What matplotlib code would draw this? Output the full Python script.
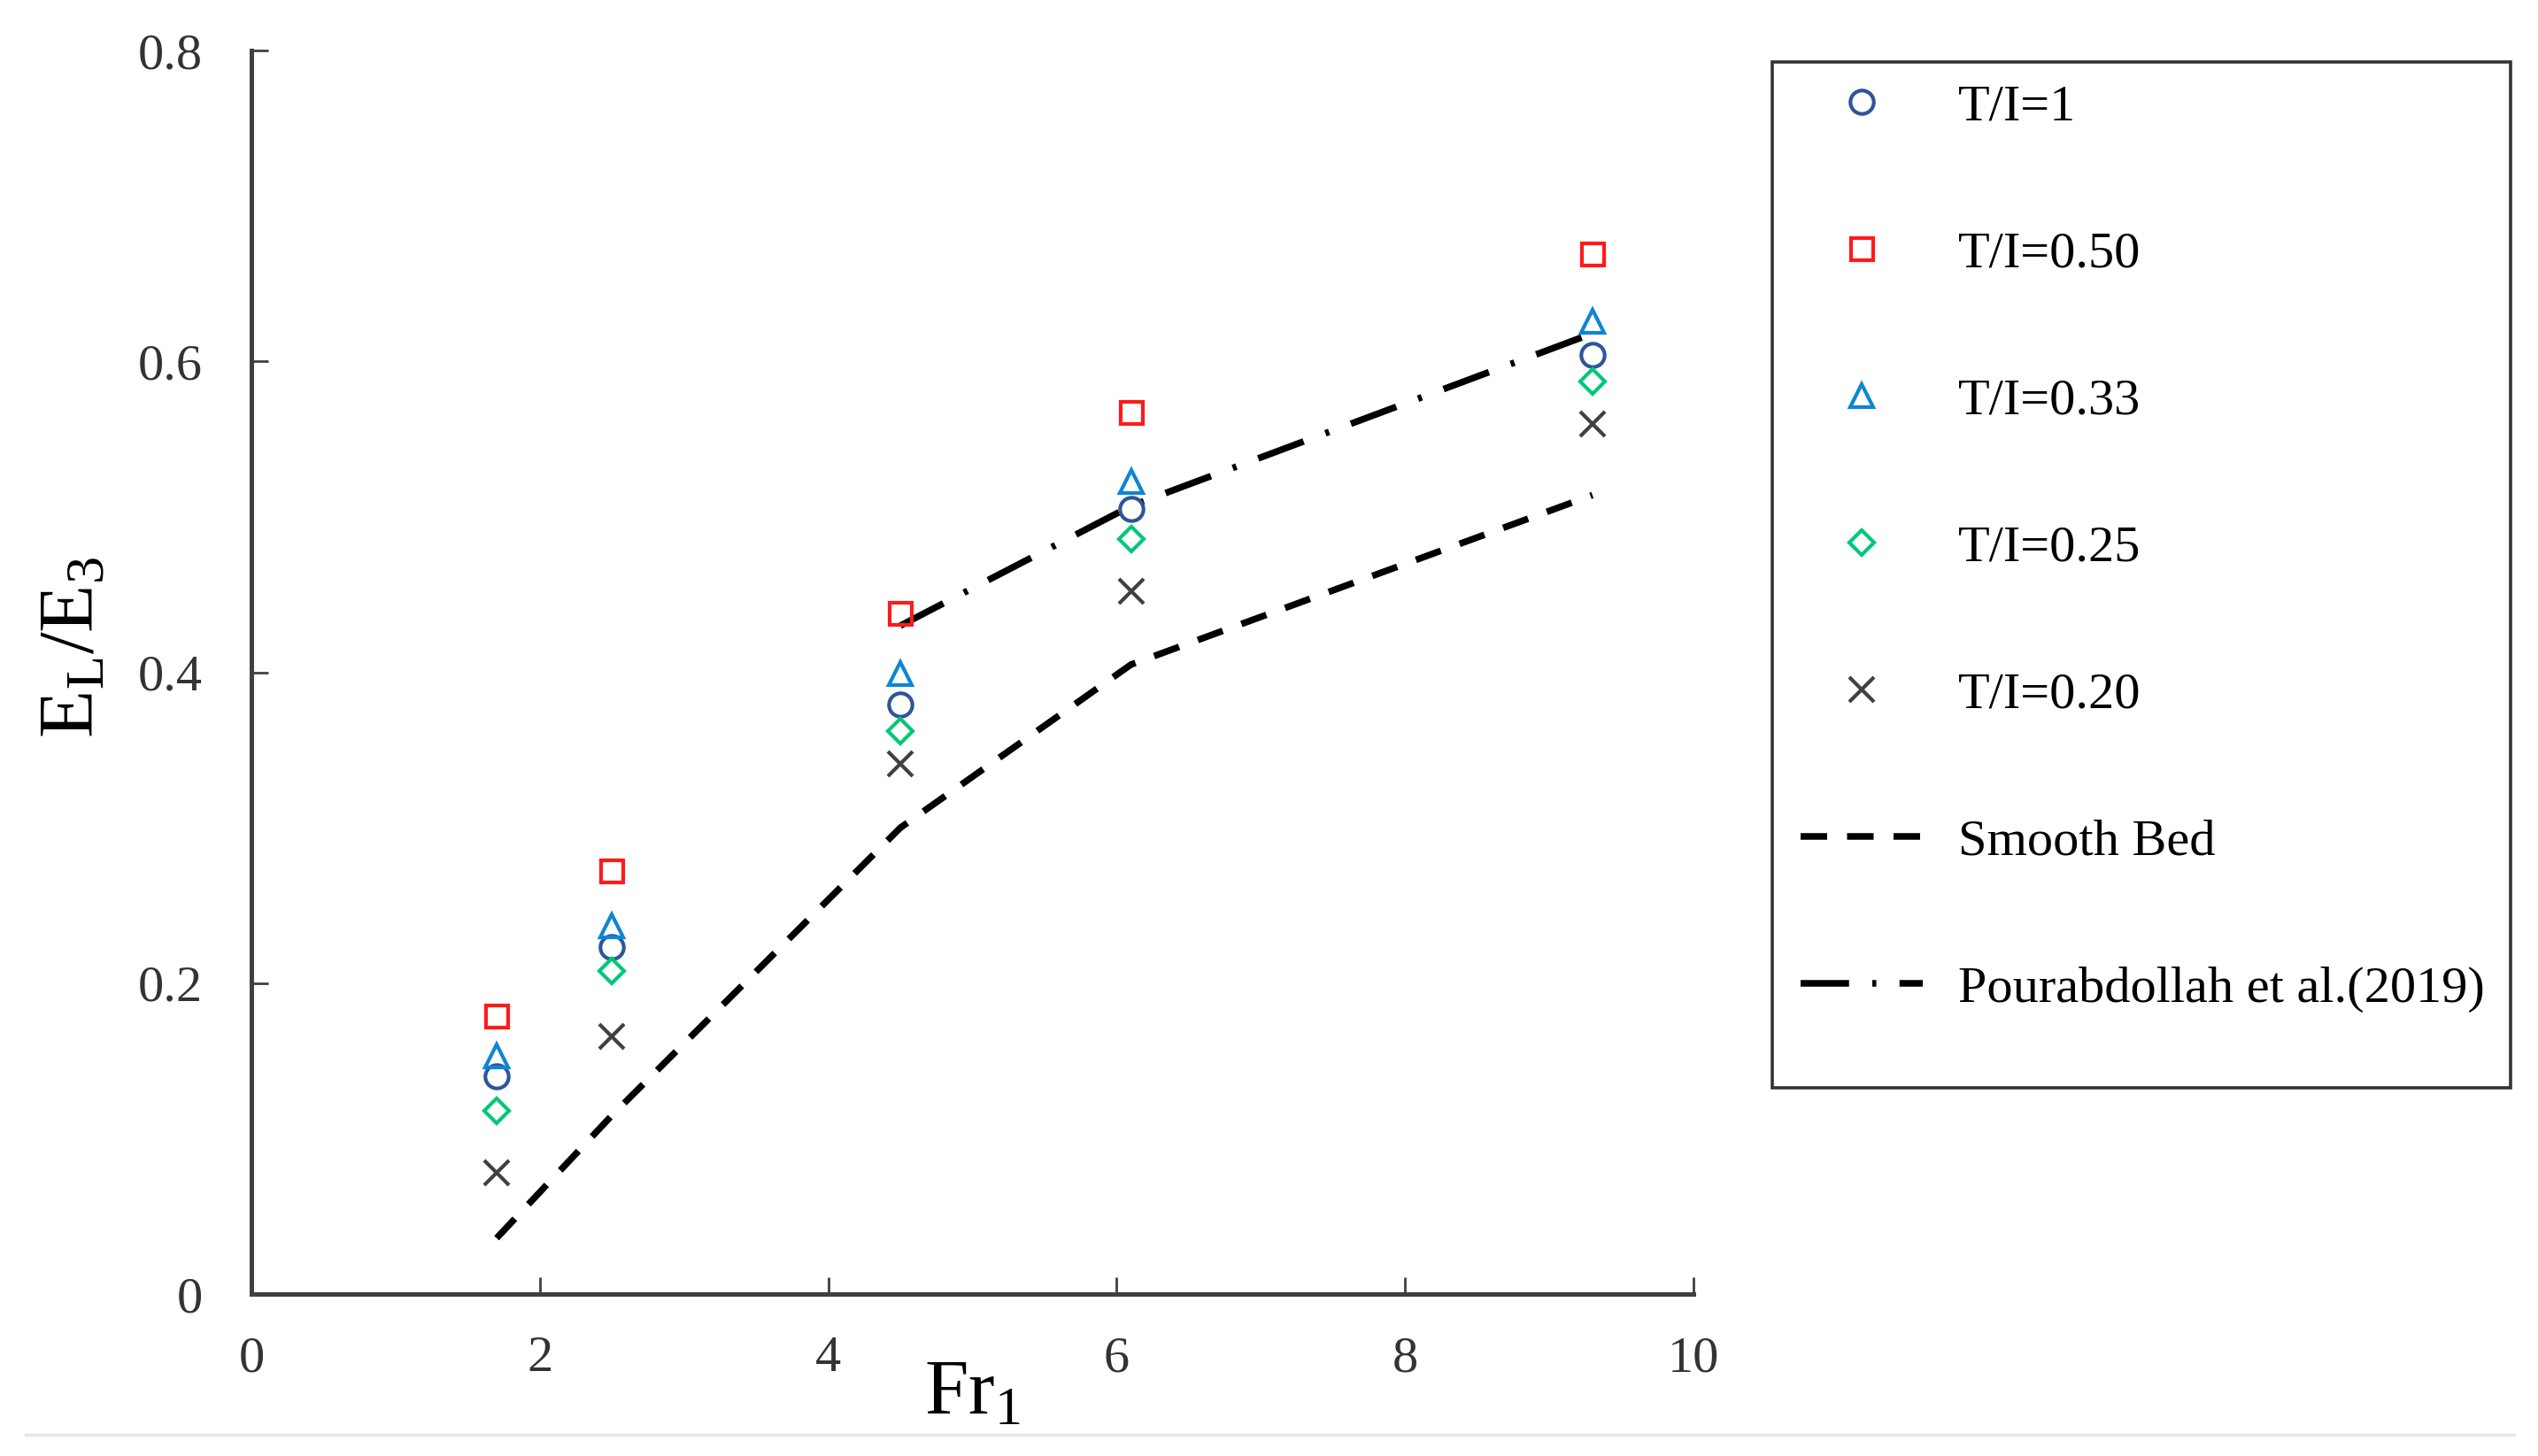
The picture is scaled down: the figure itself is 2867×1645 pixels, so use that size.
import matplotlib
matplotlib.use('Agg')
import matplotlib.pyplot as plt
from matplotlib.lines import Line2D
from matplotlib.patches import Rectangle

# data
fr = [1.7, 2.5, 4.5, 6.1, 9.3]
ti_100 = [0.140, 0.223, 0.379, 0.505, 0.604]
ti_050 = [0.179, 0.272, 0.438, 0.567, 0.669]
ti_033 = [0.153, 0.237, 0.399, 0.523, 0.626]
ti_025 = [0.118, 0.208, 0.362, 0.486, 0.587]
ti_020 = [0.078, 0.166, 0.341, 0.452, 0.560]

smooth_x = [1.7, 2.5, 4.5, 6.1, 9.3]
smooth_y = [0.036, 0.115, 0.300, 0.405, 0.514]

pour_x = [4.5, 6.1, 9.3]
pour_y = [0.430, 0.507, 0.618]

labels = ['T/I=1', 'T/I=0.50', 'T/I=0.33', 'T/I=0.25', 'T/I=0.20',
          'Smooth Bed', 'Pourabdollah et al.(2019)']
xticks = [0, 2, 4, 6, 8, 10]
yticks = [0, 0.2, 0.4, 0.6, 0.8]

plt.rcParams['font.family'] = ['Liberation Serif', 'DejaVu Serif']
plt.rcParams['mathtext.fontset'] = 'custom'
plt.rcParams['mathtext.rm'] = 'Liberation Serif'
plt.rcParams['mathtext.it'] = 'Liberation Serif:italic'

fig = plt.figure(figsize=(14.335, 8.225), dpi=200)
ax = fig.add_axes([0.0991, 0.1112, 0.5681, 0.8541])

lw = 2.7
l_smooth, = ax.plot(smooth_x, smooth_y, color='black', lw=lw,
                    dashes=(4, 3), dash_capstyle='butt', label=labels[5])
l_pour, = ax.plot(pour_x, pour_y, color='black', lw=lw,
                  dashes=(7.3, 3.5, 0.6, 3.5), dash_capstyle='butt', label=labels[6])

mew = 1.5
m1, = ax.plot(fr, ti_100, 'o', ms=9.5, mfc='none', mec='#2f5597', mew=mew, label=labels[0])
m2, = ax.plot(fr, ti_050, 's', ms=9, mfc='none', mec='#ff1a1a', mew=mew, label=labels[1])
m3, = ax.plot(fr, ti_033, '^', ms=9.5, mfc='none', mec='#0c86d6', mew=mew, label=labels[2])
m4, = ax.plot(fr, ti_025, 'D', ms=7.2, mfc='none', mec='#00c878', mew=mew, label=labels[3])
m5, = ax.plot(fr, ti_020, 'x', ms=10, mec='#404040', mew=mew, label=labels[4])

ax.set_xlim(0, 10)
ax.set_ylim(0, 0.8)
ax.set_xticks(xticks)
ax.set_xticklabels([str(v) for v in xticks])
ax.set_yticks(yticks)
ax.set_yticklabels(['0' if v == 0 else f'{v:.1f}' for v in yticks])

for s in ['top', 'right']:
    ax.spines[s].set_visible(False)
for s in ['left', 'bottom']:
    ax.spines[s].set_linewidth(1.8)
    ax.spines[s].set_color('#404040')

ax.tick_params(axis='both', direction='in', length=7, width=1.0,
               color='#404040', labelsize=21, labelcolor='#333333')
ax.tick_params(axis='y', pad=20)
ax.tick_params(axis='x', pad=17)

ax.set_xlabel(r'$\mathrm{Fr_1}$', fontsize=32)
ax.xaxis.set_label_coords(0.5, -0.052)
ax.set_ylabel(r'$\mathrm{E_L/E_3}$', fontsize=32)
ax.yaxis.set_label_coords(-0.098, 0.52)

# legend with a hand-placed frame
handles = [m1, m2, m3, m4, m5, l_smooth, l_pour]
fig.legend(handles, labels, loc='upper left', bbox_to_anchor=(0.7095, 0.9425),
           frameon=False, fontsize=21, borderpad=0, borderaxespad=0,
           handlelength=2.37, handletextpad=0.68, labelspacing=1.94,
           numpoints=1)
fig.add_artist(Rectangle((0.6983, 0.2529), 0.2909, 0.7046, transform=fig.transFigure,
                         fill=False, edgecolor='#333333', lw=1.3))

# faint page rule under the chart
fig.add_artist(Line2D([0.010, 0.9906], [1 - 1621 / 1645] * 2, transform=fig.transFigure,
                      color='#e6e6e6', lw=1.2))

fig.savefig('out.png', dpi=200, facecolor='white')
